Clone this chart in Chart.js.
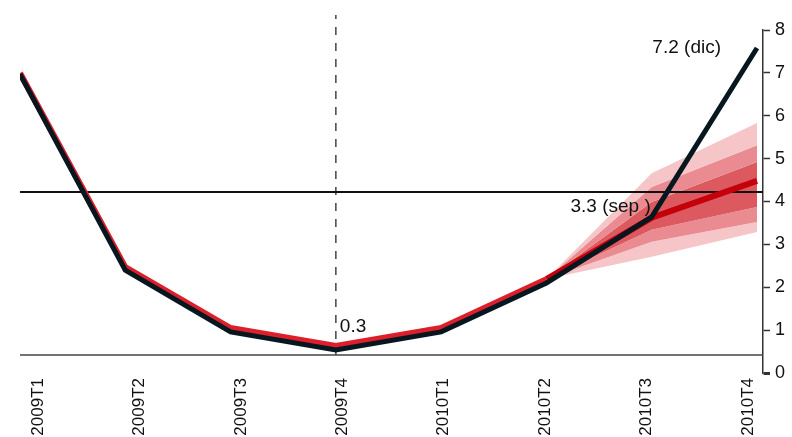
<!DOCTYPE html>
<html>
<head>
<meta charset="utf-8">
<script src="https://cdn.jsdelivr.net/npm/chart.js@4/dist/chart.umd.min.js"></script>
<style>
    html, body { margin: 0; padding: 0; background: #fff; }
    #wrap { width: 792px; height: 437px; position: relative; }
</style>
</head>
<body>
<div id="wrap"><canvas id="fan-chart"></canvas></div>
<script>
const quarters = ['2009T1', '2009T2', '2009T3', '2009T4', '2010T1', '2010T2', '2010T3', '2010T4'];
const actual = [6.97, 2.40, 0.96, 0.54, 0.96, 2.10, 3.64, 7.58];
const history = [7.00, 2.47, 1.05, 0.63, 1.05, 2.19];
const central = [null, null, null, null, null, 2.19, 3.62, 4.48];
const outerUpper = [null, null, null, null, null, 2.19, 4.66, 5.83];
const middleUpper = [null, null, null, null, null, 2.19, 4.34, 5.31];
const innerUpper = [null, null, null, null, null, 2.19, 3.99, 4.92];
const innerLower = [null, null, null, null, null, 2.19, 3.34, 3.87];
const middleLower = [null, null, null, null, null, 2.19, 3.06, 3.52];
const outerLower = [null, null, null, null, null, 2.19, 2.71, 3.29];
const targetLevel = 4.22;
const baseLevel = 0.42;
const markerTop = 8.35;
const markerIndex = 3;
const yTicks = [0, 1, 2, 3, 4, 5, 6, 7, 8];
const notes = [
    { index: 7, text: '7.2 (dic)' },
    { index: 6, text: '3.3 (sep )' },
    { index: 3, text: '0.3' }
];

const font = '"Liberation Sans", Arial, Helvetica, sans-serif';
const xMax = 7.057;

function pts(values) {
    return values.map(function (v, i) { return { x: i, y: v }; });
}
// lower order is drawn on top in Chart.js
function band(values, fill, color) {
    return { data: pts(values), borderWidth: 0, pointRadius: 0, fill: fill, backgroundColor: color, order: 10 };
}

const notePlugin = {
    id: 'notes',
    afterDatasetsDraw: function (chart) {
        const ctx = chart.ctx;
        const xs = chart.scales.x;
        const ys = chart.scales.y;
        ctx.save();
        ctx.font = '19px ' + font;
        ctx.fillStyle = '#111';
        ctx.textBaseline = 'middle';
        notes.forEach(function (n) {
            const px = xs.getPixelForValue(n.index);
            const py = ys.getPixelForValue(actual[n.index]);
            if (n.index === 7) { ctx.textAlign = 'right'; ctx.fillText(n.text, px - 36, py); }
            else if (n.index === 6) { ctx.textAlign = 'right'; ctx.fillText(n.text, px - 1, py - 10); }
            else { ctx.textAlign = 'left'; ctx.fillText(n.text, px + 4, py - 23); }
        });
        ctx.restore();
    }
};

new Chart(document.getElementById('fan-chart'), {
    type: 'line',
    data: {
        datasets: [
            band(outerUpper, '+1', '#f5c5c8'),
            band(middleUpper, '+1', '#e98b90'),
            band(innerUpper, '+1', '#dc5a5f'),
            band(innerLower, '+1', '#e98b90'),
            band(middleLower, '+1', '#f5c5c8'),
            band(outerLower, false, 'transparent'),
            { data: [{ x: 0, y: targetLevel }, { x: xMax, y: targetLevel }], borderColor: '#111', borderWidth: 2, pointRadius: 0, order: 4 },
            { data: [{ x: 0, y: baseLevel }, { x: xMax, y: baseLevel }], borderColor: '#444', borderWidth: 1.5, pointRadius: 0, order: 5 },
            { data: [{ x: markerIndex, y: baseLevel }, { x: markerIndex, y: markerTop }], borderColor: '#444', borderWidth: 1.5, borderDash: [8, 8], pointRadius: 0, clip: false, order: 5 },
            { data: pts(central), borderColor: '#c4000a', borderWidth: 6, pointRadius: 0, order: 3 },
            { data: pts(history), borderColor: '#dc1f2a', borderWidth: 6, pointRadius: 0, order: 2 },
            { data: pts(actual), borderColor: '#07171f', borderWidth: 5, pointRadius: 0, order: 1 }
        ]
    },
    options: {
        responsive: true,
        maintainAspectRatio: false,
        animation: false,
        layout: { padding: { left: 20, top: 30, right: 0, bottom: 0 } },
        plugins: { legend: { display: false }, tooltip: { enabled: false } },
        elements: { line: { tension: 0 } },
        scales: {
            x: { type: 'linear', min: 0, max: xMax, display: false },
            xl: {
                type: 'linear', position: 'bottom', min: -0.1775, max: 7.148,
                grid: { display: false, drawTicks: false },
                border: { display: false },
                afterBuildTicks: function (scale) { scale.ticks = quarters.map(function (q, i) { return { value: i }; }); },
                afterFit: function (scale) { scale.height = 64; },
                ticks: {
                    autoSkip: false, maxRotation: 90, minRotation: 90, padding: 5,
                    color: '#111', font: { family: font, size: 17 },
                    callback: function (v) { return quarters[v]; }
                }
            },
            y: {
                position: 'right', min: 0, max: 8,
                afterBuildTicks: function (scale) { scale.ticks = yTicks.map(function (v) { return { value: v }; }); },
                afterFit: function (scale) { scale.width = 29; },
                grid: {
                    drawOnChartArea: false, drawTicks: true, tickLength: 7, color: '#333',
                    tickWidth: function (c) { return c.tick && c.tick.value === 0 ? 3 : 1.5; }
                },
                border: { display: true, color: '#333', width: 1.5 },
                ticks: { padding: 5, color: '#111', font: { family: font, size: 18 } }
            }
        }
    },
    plugins: [notePlugin]
});
</script>
</body>
</html>
